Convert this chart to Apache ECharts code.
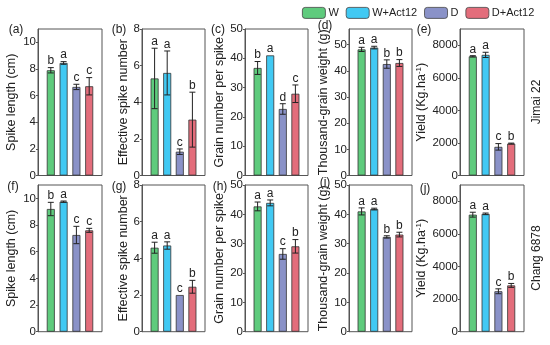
<!DOCTYPE html>
<html>
<head>
<meta charset="utf-8">
<script src="https://cdn.jsdelivr.net/npm/echarts@6/dist/echarts.min.js"></script>
<style>html,body{margin:0;padding:0;background:#fff}#c{width:550px;height:345px}</style>
</head>
<body>
<div id="c"></div>
<script>
// ---- Data ----
const groups = ['W', 'W+Act12', 'D', 'D+Act12'];
const rowNames = ['Jimai 22', 'Chang 6878'];
const panelTags = ['(a)', '(b)', '(c)', '(d)', '(e)', '(f)', '(g)', '(h)', '(i)', '(j)'];
const yTitles = ['Spike length (cm)', 'Effective spike number', 'Grain number per spike', 'Thousand-grain weight (g)', 'Yield (Kg.ha{sup|-1})'];

// Jimai 22
const spikeLenJ = [7.9, 8.45, 6.65, 6.7];
const spikeLenJErr = [0.2, 0.1, 0.2, 0.65];
const spikeLenJLet = ['b', 'a', 'c', 'c'];
const spikeNumJ = [5.3, 5.6, 1.3, 3.05];
const spikeNumJErr = [1.65, 1.2, 0.15, 1.5];
const spikeNumJLet = ['a', 'a', 'c', 'b'];
const grainNumJ = [36.7, 41.0, 22.7, 27.9];
const grainNumJErr = [2.2, 0, 1.8, 3.0];
const grainNumJLet = ['b', 'a', 'd', 'c'];
const tgwJ = [48.2, 48.9, 42.6, 43.0];
const tgwJErr = [0.8, 0.5, 1.6, 1.3];
const tgwJLet = ['a', 'a', 'b', 'b'];
const yieldJ = [7320, 7410, 1760, 1960];
const yieldJErr = [40, 160, 200, 30];
const yieldJLet = ['a', 'a', 'c', 'b'];

// Chang 6878
const spikeLenC = [9.2, 9.75, 7.25, 7.6];
const spikeLenCErr = [0.5, 0.05, 0.65, 0.15];
const spikeLenCLet = ['b', 'a', 'c', 'c'];
const spikeNumC = [4.58, 4.7, 2.0, 2.45];
const spikeNumCErr = [0.3, 0.2, 0.0, 0.35];
const spikeNumCLet = ['a', 'a', 'c', 'b'];
const grainNumC = [42.7, 43.9, 26.5, 29.1];
const grainNumCErr = [1.5, 1.0, 1.8, 2.3];
const grainNumCLet = ['a', 'a', 'c', 'b'];
const tgwC = [41.0, 41.8, 32.3, 33.1];
const tgwCErr = [1.2, 0.3, 0.4, 0.8];
const tgwCLet = ['a', 'a', 'b', 'b'];
const yieldC = [7180, 7230, 2480, 2840];
const yieldCErr = [150, 50, 150, 120];
const yieldCLet = ['a', 'a', 'c', 'b'];

// axis ranges and tick labels
const yMax = [11, 8, 50, 56, 9000, 11, 8, 50, 50, 9000];
const yTicks = [
  [0, 2, 4, 6, 8, 10], [0, 2, 4, 6, 8], [0, 10, 20, 30, 40, 50], [0, 10, 20, 30, 40, 50], [0, 2000, 4000, 6000, 8000],
  [0, 2, 4, 6, 8, 10], [0, 2, 4, 6, 8], [0, 10, 20, 30, 40, 50], [0, 10, 20, 30, 40, 50], [0, 2000, 4000, 6000, 8000]
];

const panels = [
  [spikeLenJ, spikeLenJErr, spikeLenJLet], [spikeNumJ, spikeNumJErr, spikeNumJLet], [grainNumJ, grainNumJErr, grainNumJLet],
  [tgwJ, tgwJErr, tgwJLet], [yieldJ, yieldJErr, yieldJLet],
  [spikeLenC, spikeLenCErr, spikeLenCLet], [spikeNumC, spikeNumCErr, spikeNumCLet], [grainNumC, grainNumCErr, grainNumCLet],
  [tgwC, tgwCErr, tgwCLet], [yieldC, yieldCErr, yieldCLet]
];

// ---- Layout / style ----
const colors = ['#5fcb7d', '#41c9f3', '#8a92c8', '#e36d7b'];
const FONT = 'Liberation Sans, Arial, sans-serif';
const colLeft = [38, 142, 245, 349, 460];
const colWidth = [64, 63, 63, 63, 64];
const rowTop = [29, 185];
const rowHeight = [146.5, 146.7];
const nameGaps = [20, 9, 19, 19, 29];
const tagPos = [[16, 30], [119, 30], [218, 30], [325, 26], [424, 30], [13, 187], [119, 187], [220, 187], [325, 183], [425, 189]];

const grids = [], xAxes = [], yAxes = [], series = [];
for (let p = 0; p < 10; p++) {
  const r = Math.floor(p / 5), c = p % 5;
  grids.push({ left: colLeft[c], top: rowTop[r], width: colWidth[c], height: rowHeight[r], show: true, borderColor: '#555', borderWidth: 1, backgroundColor: 'transparent' });
  xAxes.push({ type: 'value', gridIndex: p, min: 0, max: 5, show: false });
  yAxes.push({
    type: 'value', gridIndex: p, min: 0, max: yMax[p],
    name: yTitles[c], nameLocation: 'middle', nameGap: nameGaps[c], nameRotate: 90,
    nameTextStyle: { fontFamily: FONT, fontSize: 12.5, color: '#222', rich: { sup: { fontSize: 8, verticalAlign: 'top', color: '#222', fontFamily: FONT, padding: [0, 0, 6, 0] } } },
    axisLine: { show: true, lineStyle: { color: '#555', width: 1 } },
    axisTick: { show: true, length: 2, lineStyle: { color: '#555' }, customValues: yTicks[p] },
    axisLabel: { fontFamily: FONT, fontSize: 11.5, color: '#222', margin: 2, customValues: yTicks[p], formatter: v => String(v) },
    splitLine: { show: false }
  });
  const [vals, errs, lets] = panels[p];
  for (let i = 0; i < 4; i++) {
    series.push({
      type: 'bar', name: groups[i], xAxisIndex: p, yAxisIndex: p,
      barWidth: 8, barGap: '-100%',
      itemStyle: { color: colors[i], borderColor: '#333', borderWidth: 0.8 },
      data: [[i + 1, vals[i]]], silent: true, animation: false
    });
  }
  const eb = vals.map((v, i) => [i + 1, v, errs[i]]);
  series.push({
    type: 'custom', xAxisIndex: p, yAxisIndex: p, silent: true, animation: false, z: 10,
    data: eb,
    renderItem: (function (lets) {
      return function (params, api) {
        const x = api.value(0), v = api.value(1), e = api.value(2);
        const top = api.coord([x, v + e]);
        const bot = api.coord([x, v - e]);
        const ch = [];
        if (e > 0) {
          ch.push({ type: 'line', shape: { x1: top[0], y1: top[1], x2: bot[0], y2: bot[1] }, style: { stroke: '#222', lineWidth: 1 } });
          ch.push({ type: 'line', shape: { x1: top[0] - 3, y1: top[1], x2: top[0] + 3, y2: top[1] }, style: { stroke: '#222', lineWidth: 1 } });
          ch.push({ type: 'line', shape: { x1: bot[0] - 3, y1: bot[1], x2: bot[0] + 3, y2: bot[1] }, style: { stroke: '#222', lineWidth: 1 } });
        }
        ch.push({ type: 'text', style: { text: lets[params.dataIndex], x: top[0], y: top[1] - 0.5, textAlign: 'center', textVerticalAlign: 'bottom', fontFamily: FONT, fontSize: 12, fill: '#222' } });
        return { type: 'group', children: ch };
      };
    })(lets)
  });
}

const graphics = [];
panelTags.forEach((t, i) => {
  graphics.push({ type: 'text', x: tagPos[i][0], y: tagPos[i][1], style: { text: t, fontFamily: FONT, fontSize: 12, fill: '#222', textAlign: 'center', textVerticalAlign: 'middle' } });
});
graphics.push({ type: 'text', x: 537, y: 102, rotation: Math.PI / 2, style: { text: rowNames[0], fontFamily: FONT, fontSize: 12, fill: '#222', textAlign: 'center', textVerticalAlign: 'middle' } });
graphics.push({ type: 'text', x: 537, y: 258, rotation: Math.PI / 2, style: { text: rowNames[1], fontFamily: FONT, fontSize: 12, fill: '#222', textAlign: 'center', textVerticalAlign: 'middle' } });

const chart = echarts.init(document.getElementById('c'), null, { renderer: 'canvas' });
chart.setOption({
  animation: false,
  backgroundColor: '#fff',
  legend: {
    data: groups, left: 297, top: 2, width: 252, itemWidth: 23, itemHeight: 11, itemGap: 7,
    itemStyle: { borderWidth: 0.8, borderColor: '#444' },
    textStyle: { fontFamily: FONT, fontSize: 11, color: '#222', padding: [0, 0, 0, -2] },
    selectedMode: false
  },
  grid: grids, xAxis: xAxes, yAxis: yAxes, series: series, graphic: graphics
});
</script>
</body>
</html>
